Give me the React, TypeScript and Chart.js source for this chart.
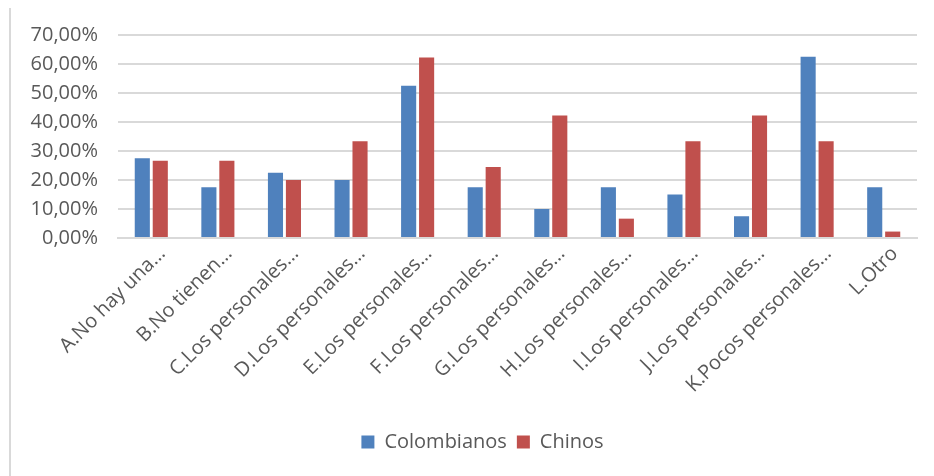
import React, { useEffect, useRef } from "react";
import { Chart, registerables } from "chart.js";

Chart.register(...registerables);

const categories: string[] = [
  "A.No hay una…",
  "B.No tienen…",
  "C.Los personales…",
  "D.Los personales…",
  "E.Los personales…",
  "F.Los personales…",
  "G.Los personales…",
  "H.Los personales…",
  "I.Los personales…",
  "J.Los personales…",
  "K.Pocos personales…",
  "L.Otro",
];

const colombianos: number[] = [27.5, 17.5, 22.5, 20, 52.5, 17.5, 10, 17.5, 15, 7.5, 62.5, 17.5];
const chinos: number[] = [26.67, 26.67, 20, 33.33, 62.22, 24.44, 42.22, 6.67, 33.33, 42.22, 33.33, 2.22];

const seriesNames: string[] = ["Colombianos", "Chinos"];
const yTicks: number[] = [0, 10, 20, 30, 40, 50, 60, 70];

const TEXT = "#595959";
const FONT = "'Open Sans', 'Liberation Sans', sans-serif";

const legendShift = {
  id: "legendShift",
  afterLayout(chart: any) {
    const lg = chart.legend;
    if (lg) {
      lg.left += 24;
      lg.right += 24;
    }
  },
};

export default function App() {
  const ref = useRef<HTMLCanvasElement | null>(null);

  useEffect(() => {
    if (!ref.current) return;
    const chart = new Chart(ref.current, {
      type: "bar",
      data: {
        labels: categories,
        datasets: [
          {
            label: seriesNames[0],
            data: colombianos,
            backgroundColor: "#4f81bd",
            categoryPercentage: 0.54,
            barPercentage: 0.84,
          },
          {
            label: seriesNames[1],
            data: chinos,
            backgroundColor: "#c0504d",
            categoryPercentage: 0.54,
            barPercentage: 0.84,
          },
        ],
      },
      plugins: [legendShift],
      options: {
        responsive: false,
        animation: false,
        layout: { padding: { top: 35, right: 17, left: 0, bottom: 14 } },
        plugins: {
          tooltip: { enabled: false },
          legend: {
            position: "bottom",
            labels: {
              boxWidth: 13,
              boxHeight: 13,
              padding: 10,
              color: TEXT,
              font: { family: FONT, size: 20 },
            },
          },
        },
        scales: {
          x: {
            grid: { display: false, drawTicks: false },
            border: { display: true, color: "#d9d9d9", width: 2 },
            ticks: {
              color: TEXT,
              font: { family: FONT, size: 20 },
              minRotation: 45,
              maxRotation: 45,
              autoSkip: false,
              padding: 4,
              labelOffset: 11,
            },
            afterFit: (scale: any) => {
              scale.height = 184;
            },
          },
          y: {
            min: 0,
            max: 70,
            afterBuildTicks: (scale: any) => {
              scale.ticks = yTicks.map((v) => ({ value: v }));
            },
            grid: { color: "#d9d9d9", lineWidth: 2, drawTicks: false },
            border: { display: false },
            ticks: {
              color: TEXT,
              font: { family: FONT, size: 20 },
              padding: 20,
              callback: (v: any) => Number(v).toFixed(2).replace(".", ",") + "%",
            },
            afterFit: (scale: any) => {
              scale.width = 118;
            },
          },
        },
      },
    });
    return () => chart.destroy();
  }, []);

  return (
    <div style={{ position: "absolute", left: 0, top: 0, width: 934, height: 476, background: "#fff" }}>
      <div style={{ position: "absolute", left: 9, top: 8, width: 2, height: 468, background: "#d9d9d9" }} />
      <canvas ref={ref} width={934} height={476} style={{ position: "absolute", left: 0, top: 0, width: 934, height: 476 }} />
    </div>
  );
}
